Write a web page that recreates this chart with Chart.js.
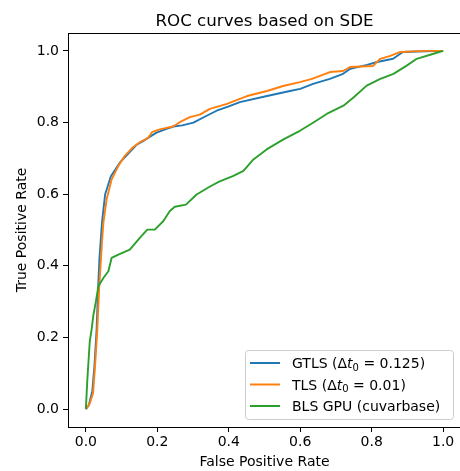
<!DOCTYPE html>
<html>
<head>
<meta charset="utf-8">
<script src="https://cdn.jsdelivr.net/npm/chart.js@4.4.0/dist/chart.umd.min.js"></script>
<style>
  html, body { margin: 0; padding: 0; background: #fff; overflow: hidden; }
  #wrap { width: 462px; height: 471px; }
</style>
</head>
<body>
<div id="wrap"><canvas id="chart" width="462" height="471"></canvas></div>
<script>
// values
const gtlsFpr = [0, 0.008, 0.018, 0.024, 0.03, 0.034, 0.038, 0.045, 0.054, 0.07, 0.095, 0.12, 0.142, 0.16, 0.175, 0.198, 0.22, 0.245, 0.27, 0.301, 0.338, 0.366, 0.4, 0.431, 0.507, 0.571, 0.6, 0.636, 0.683, 0.72, 0.74, 0.787, 0.815, 0.86, 0.88, 0.888, 0.95, 1.0];
const gtlsTpr = [0, 0.01, 0.05, 0.12, 0.22, 0.33, 0.42, 0.52, 0.6, 0.65, 0.688, 0.715, 0.738, 0.748, 0.758, 0.772, 0.78, 0.789, 0.792, 0.8, 0.819, 0.833, 0.845, 0.857, 0.874, 0.888, 0.894, 0.908, 0.922, 0.936, 0.95, 0.961, 0.969, 0.978, 0.992, 0.997, 0.999, 1.0];

const tlsFpr = [0, 0.011, 0.02, 0.025, 0.032, 0.037, 0.041, 0.045, 0.049, 0.058, 0.072, 0.077, 0.091, 0.109, 0.132, 0.151, 0.174, 0.185, 0.207, 0.244, 0.263, 0.291, 0.319, 0.347, 0.395, 0.431, 0.451, 0.507, 0.552, 0.599, 0.633, 0.683, 0.72, 0.739, 0.804, 0.824, 0.852, 0.88, 0.95, 1.0];
const tlsTpr = [0, 0.016, 0.044, 0.109, 0.221, 0.333, 0.399, 0.464, 0.52, 0.585, 0.641, 0.651, 0.679, 0.707, 0.731, 0.745, 0.757, 0.773, 0.781, 0.789, 0.801, 0.815, 0.822, 0.838, 0.852, 0.866, 0.874, 0.888, 0.902, 0.913, 0.922, 0.941, 0.944, 0.955, 0.958, 0.978, 0.986, 0.997, 1.0, 1.0];

const blsFpr = [0, 0.004, 0.011, 0.016, 0.021, 0.028, 0.035, 0.049, 0.063, 0.072, 0.091, 0.123, 0.151, 0.172, 0.193, 0.217, 0.235, 0.249, 0.28, 0.31, 0.345, 0.373, 0.413, 0.441, 0.469, 0.506, 0.553, 0.599, 0.637, 0.674, 0.721, 0.749, 0.786, 0.824, 0.861, 0.898, 0.926, 0.973, 1.0];
const blsTpr = [0, 0.08, 0.19, 0.221, 0.262, 0.3, 0.343, 0.366, 0.385, 0.422, 0.431, 0.445, 0.478, 0.501, 0.501, 0.525, 0.553, 0.565, 0.571, 0.599, 0.62, 0.635, 0.651, 0.665, 0.697, 0.725, 0.753, 0.777, 0.8, 0.824, 0.847, 0.87, 0.903, 0.922, 0.936, 0.959, 0.978, 0.992, 1.0];

const tickValues = [0, 0.2, 0.4, 0.6, 0.8, 1.0];
const seriesNames = ['GTLS', 'TLS', 'BLS GPU (cuvarbase)'];
const seriesDt = ['0.125', '0.01', null];
const colors = ['#1f77b4', '#ff7f0e', '#2ca02c'];

const FONT = '"DejaVu Sans", sans-serif';
const FS = 14;

function pairs(xs, ys) {
  return xs.map((x, i) => ({ x: x, y: ys[i] }));
}

// frame, title and the in-axes legend
const extras = {
  id: 'extras',
  afterDraw(chart) {
    const ctx = chart.ctx;
    const a = chart.chartArea;
    ctx.save();
    ctx.strokeStyle = '#000';
    ctx.lineWidth = 1;
    ctx.strokeRect(a.left + 0.5, a.top + 0.5, a.right - a.left, a.bottom - a.top);

    ctx.fillStyle = '#000';
    ctx.font = '16.7px ' + FONT;
    ctx.textAlign = 'center';
    ctx.textBaseline = 'alphabetic';
    ctx.fillText('ROC curves based on SDE', (a.left + a.right) / 2, 26);

    // legend box
    const bx = 245, by = 350, bw = 208, bh = 69;
    ctx.beginPath();
    ctx.roundRect(bx + 0.5, by + 0.5, bw, bh, 3);
    ctx.fillStyle = 'rgba(255,255,255,0.8)';
    ctx.fill();
    ctx.strokeStyle = '#cccccc';
    ctx.stroke();

    const rows = [363, 384.5, 406];
    ctx.textAlign = 'left';
    ctx.textBaseline = 'alphabetic';
    seriesNames.forEach((name, i) => {
      const y = rows[i];
      ctx.strokeStyle = colors[i];
      ctx.lineWidth = 2;
      ctx.beginPath();
      ctx.moveTo(250, y);
      ctx.lineTo(280, y);
      ctx.stroke();
      ctx.fillStyle = '#000';
      let x = 292;
      const base = y + 5;
      ctx.font = FS + 'px ' + FONT;
      if (seriesDt[i] === null) {
        ctx.fillText(name, x, base);
        return;
      }
      let s = name + ' (\u0394';
      ctx.fillText(s, x, base); x += ctx.measureText(s).width;
      ctx.font = 'italic ' + FS + 'px ' + FONT;
      ctx.fillText('t', x, base); x += ctx.measureText('t').width;
      ctx.font = '10px ' + FONT;
      ctx.fillText('0', x, base + 2.5); x += ctx.measureText('0').width;
      ctx.font = FS + 'px ' + FONT;
      s = ' = ' + seriesDt[i] + ')';
      ctx.fillText(s, x, base);
    });
    ctx.restore();
  }
};

const setTicks = scale => { scale.ticks = tickValues.map(v => ({ value: v })); };

new Chart(document.getElementById('chart'), {
  type: 'line',
  data: {
    datasets: [
      { label: seriesNames[0], data: pairs(gtlsFpr, gtlsTpr), borderColor: colors[0], order: 3 },
      { label: seriesNames[1], data: pairs(tlsFpr, tlsTpr), borderColor: colors[1], order: 2 },
      { label: seriesNames[2], data: pairs(blsFpr, blsTpr), borderColor: colors[2], order: 1 }
    ]
  },
  options: {
    responsive: false,
    animation: false,
    elements: {
      line: { borderWidth: 1.9, tension: 0, fill: false, borderJoinStyle: 'round' },
      point: { radius: 0 }
    },
    layout: { padding: { top: 33, right: 1, left: 0, bottom: 0 } },
    plugins: {
      legend: { display: false },
      title: { display: false },
      tooltip: { enabled: false }
    },
    scales: {
      x: {
        type: 'linear',
        min: -0.05,
        max: 1.05,
        afterBuildTicks: setTicks,
        afterFit: s => { s.height = 44; },
        grid: { drawOnChartArea: false, drawTicks: true, tickLength: 5, color: '#000' },
        border: { display: true, color: '#000', width: 1 },
        ticks: {
          color: '#000', padding: 2, maxRotation: 0,
          font: { family: FONT, size: FS },
          callback: v => v.toFixed(1)
        },
        title: {
          display: true, text: 'False Positive Rate', color: '#000',
          font: { family: FONT, size: FS }, padding: { top: 0, bottom: 0 }
        }
      },
      y: {
        type: 'linear',
        min: -0.05,
        max: 1.05,
        afterBuildTicks: setTicks,
        afterFit: s => { s.width = 68; },
        grid: { drawOnChartArea: false, drawTicks: true, tickLength: 5, color: '#000' },
        border: { display: true, color: '#000', width: 1 },
        ticks: {
          color: '#000', padding: 4,
          font: { family: FONT, size: FS },
          callback: v => v.toFixed(1)
        },
        title: {
          display: true, text: 'True Positive Rate', color: '#000',
          font: { family: FONT, size: FS }, padding: { top: 13.6, bottom: 0 }
        }
      }
    }
  },
  plugins: [extras]
});
</script>
</body>
</html>
